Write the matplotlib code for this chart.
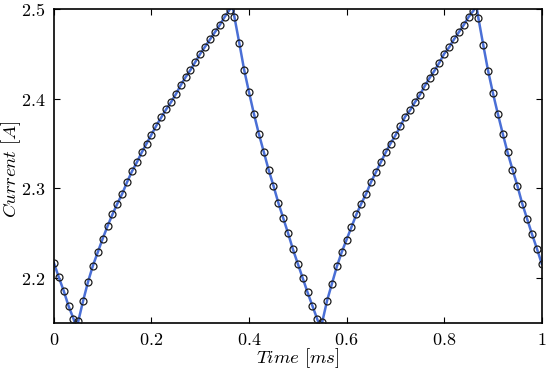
import numpy as np
import matplotlib
matplotlib.use('Agg')
import matplotlib.pyplot as plt
from matplotlib.ticker import FuncFormatter

plt.rcParams['mathtext.fontset'] = 'cm'

# sample instants (every 0.01 ms) and measured current
time_ms = np.round(np.arange(0, 101) * 0.01, 2)
current_a = [
    2.217, 2.201, 2.186, 2.169, 2.155, 2.152, 2.175, 2.196, 2.214, 2.229,
    2.244, 2.258, 2.271, 2.283, 2.294, 2.307, 2.319, 2.329, 2.340, 2.350,
    2.360, 2.370, 2.379, 2.388, 2.396, 2.405, 2.415, 2.424, 2.432, 2.441,
    2.450, 2.458, 2.466, 2.474, 2.482, 2.491, 2.499, 2.491, 2.462, 2.432,
    2.407, 2.383, 2.361, 2.341, 2.321, 2.303, 2.284, 2.267, 2.250, 2.232,
    2.216, 2.200, 2.184, 2.169, 2.154, 2.151, 2.175, 2.194, 2.213, 2.229,
    2.243, 2.257, 2.271, 2.283, 2.294, 2.307, 2.318, 2.329, 2.340, 2.350,
    2.359, 2.369, 2.380, 2.387, 2.396, 2.404, 2.414, 2.423, 2.431, 2.440,
    2.450, 2.457, 2.466, 2.474, 2.482, 2.491, 2.498, 2.490, 2.460, 2.431,
    2.406, 2.383, 2.361, 2.340, 2.321, 2.303, 2.283, 2.266, 2.249, 2.233,
    2.216,
]

# switching instants of the continuous trace (between samples)
switch_t = [0.047, 0.366, 0.547, 0.866]
switch_i = [2.144, 2.504, 2.144, 2.504]

line_t = np.concatenate([time_ms, switch_t])
line_i = np.concatenate([current_a, switch_i])
order = np.argsort(line_t, kind='stable')

fig = plt.figure(figsize=(5.5, 3.7), dpi=100)
ax = fig.add_axes([0.098, 0.127, 0.887, 0.849])

ax.plot(line_t[order], line_i[order], color='#4a6fd6', lw=1.8, zorder=2)
ax.plot(time_ms, current_a, ls='none', marker='o', ms=5, mfc='none',
        mec='#1a1a1a', mew=0.9, zorder=3)

ax.set_xlim(0, 1)
ax.set_ylim(2.15, 2.5)
ax.set_xticks([0, 0.2, 0.4, 0.6, 0.8, 1.0])
ax.set_yticks([2.2, 2.3, 2.4, 2.5])
ax.xaxis.set_major_formatter(FuncFormatter(lambda v, p: r'$%g$' % v))
ax.yaxis.set_major_formatter(FuncFormatter(lambda v, p: r'$%g$' % v))
ax.tick_params(direction='in', top=True, right=True, length=4, width=0.8,
               labelsize=13, pad=6)
for s in ax.spines.values():
    s.set_linewidth(1.2)

ax.set_xlabel(r'$Time\ [ms]$', fontsize=13.5)
ax.xaxis.set_label_coords(0.5, -0.074)
ax.set_ylabel(r'$Current\ [A]$', fontsize=13.5)
ax.yaxis.set_label_coords(-0.063, 0.49)

fig.savefig('out.png', dpi=100)
